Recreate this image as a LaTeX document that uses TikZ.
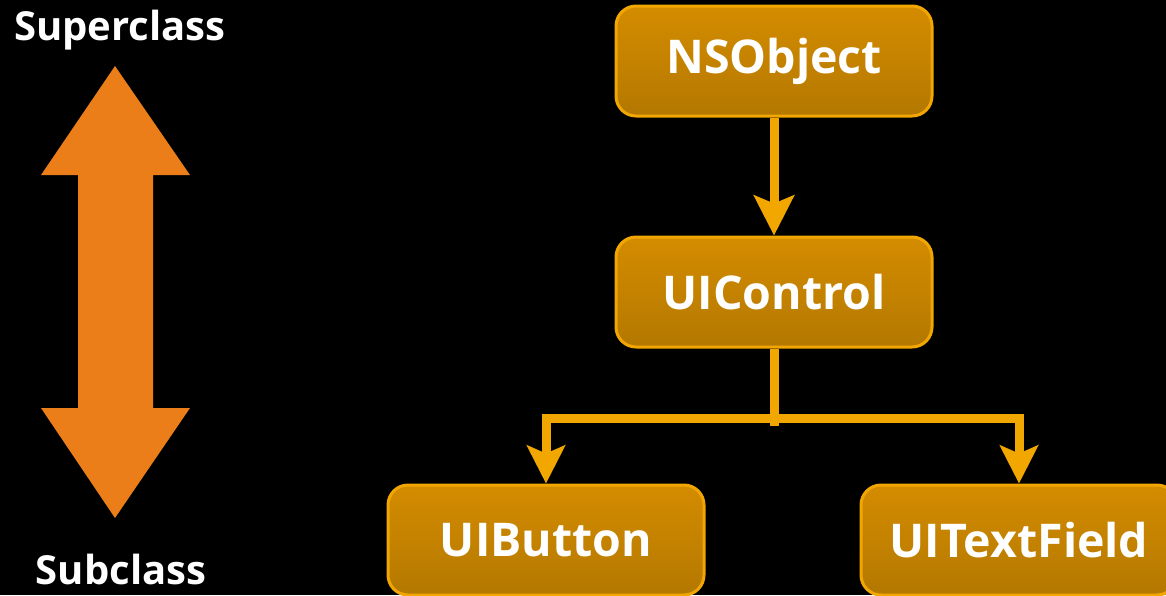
\documentclass[tikz,border=0pt]{standalone}
\usepackage{fontspec}
\setmainfont{Open Sans}
\usetikzlibrary{arrows.meta}
\definecolor{boxtop}{RGB}{212,140,0}
\definecolor{boxbottom}{RGB}{180,120,0}
\definecolor{boxline}{RGB}{242,166,0}
\definecolor{bigarrow}{RGB}{236,126,26}
\tikzstyle{classbox} = [
  rounded corners=20pt,
  draw=boxline,
  line width=3pt,
  top color=boxtop,
  bottom color=boxbottom,
  minimum width=316pt,
  minimum height=110pt,
  text=white,
  font=\fontsize{46.5}{52}\selectfont\bfseries,
]
\tikzstyle{link} = [
  draw=boxline,
  line width=9pt,
]
\tikzstyle{sidelabel} = [
  text=white,
  font=\fontsize{40}{46}\selectfont\bfseries,
]

\begin{document}
\begin{tikzpicture}[x=1pt,y=-1pt]
    \fill[black] (0,0) rectangle (1166,595);
    \useasboundingbox (0,0) rectangle (1166,595);

    % Double arrow
    \fill[bigarrow] (115,66) -- (190,175) -- (153,175) -- (153,408)
      -- (190,408) -- (115,518) -- (41,408) -- (78,408) -- (78,175)
      -- (41,175) -- cycle;
    \node[sidelabel] (super) at (120,30) {Superclass};
    \node[sidelabel] (sub) at (121,569) {Subclass};

    % Classes
    \node[classbox] (nsobject) at (774,61) {NSObject};
    \node[classbox] (uicontrol) at (774,292) {UIControl};
    \node[classbox] (uibutton) at (546,540) {UIButton};
    \node[classbox] (uitextfield) at (1019,540) {UITextField};

    % Links
    \draw[link,-{Stealth[length=40pt,width=40pt,inset=8pt]}]
      (nsobject.south) -- (uicontrol.north);
    \draw[link] (uicontrol.south) -- ++(0,77) coordinate (split);
    \draw[link,-{Stealth[length=38pt,width=38pt,inset=8pt]}]
      (split) ++(0,-7) -| (uibutton.north);
    \draw[link,-{Stealth[length=38pt,width=38pt,inset=8pt]}]
      (split) ++(0,-7) -| (uitextfield.north);
  \end{tikzpicture}
\end{document}
